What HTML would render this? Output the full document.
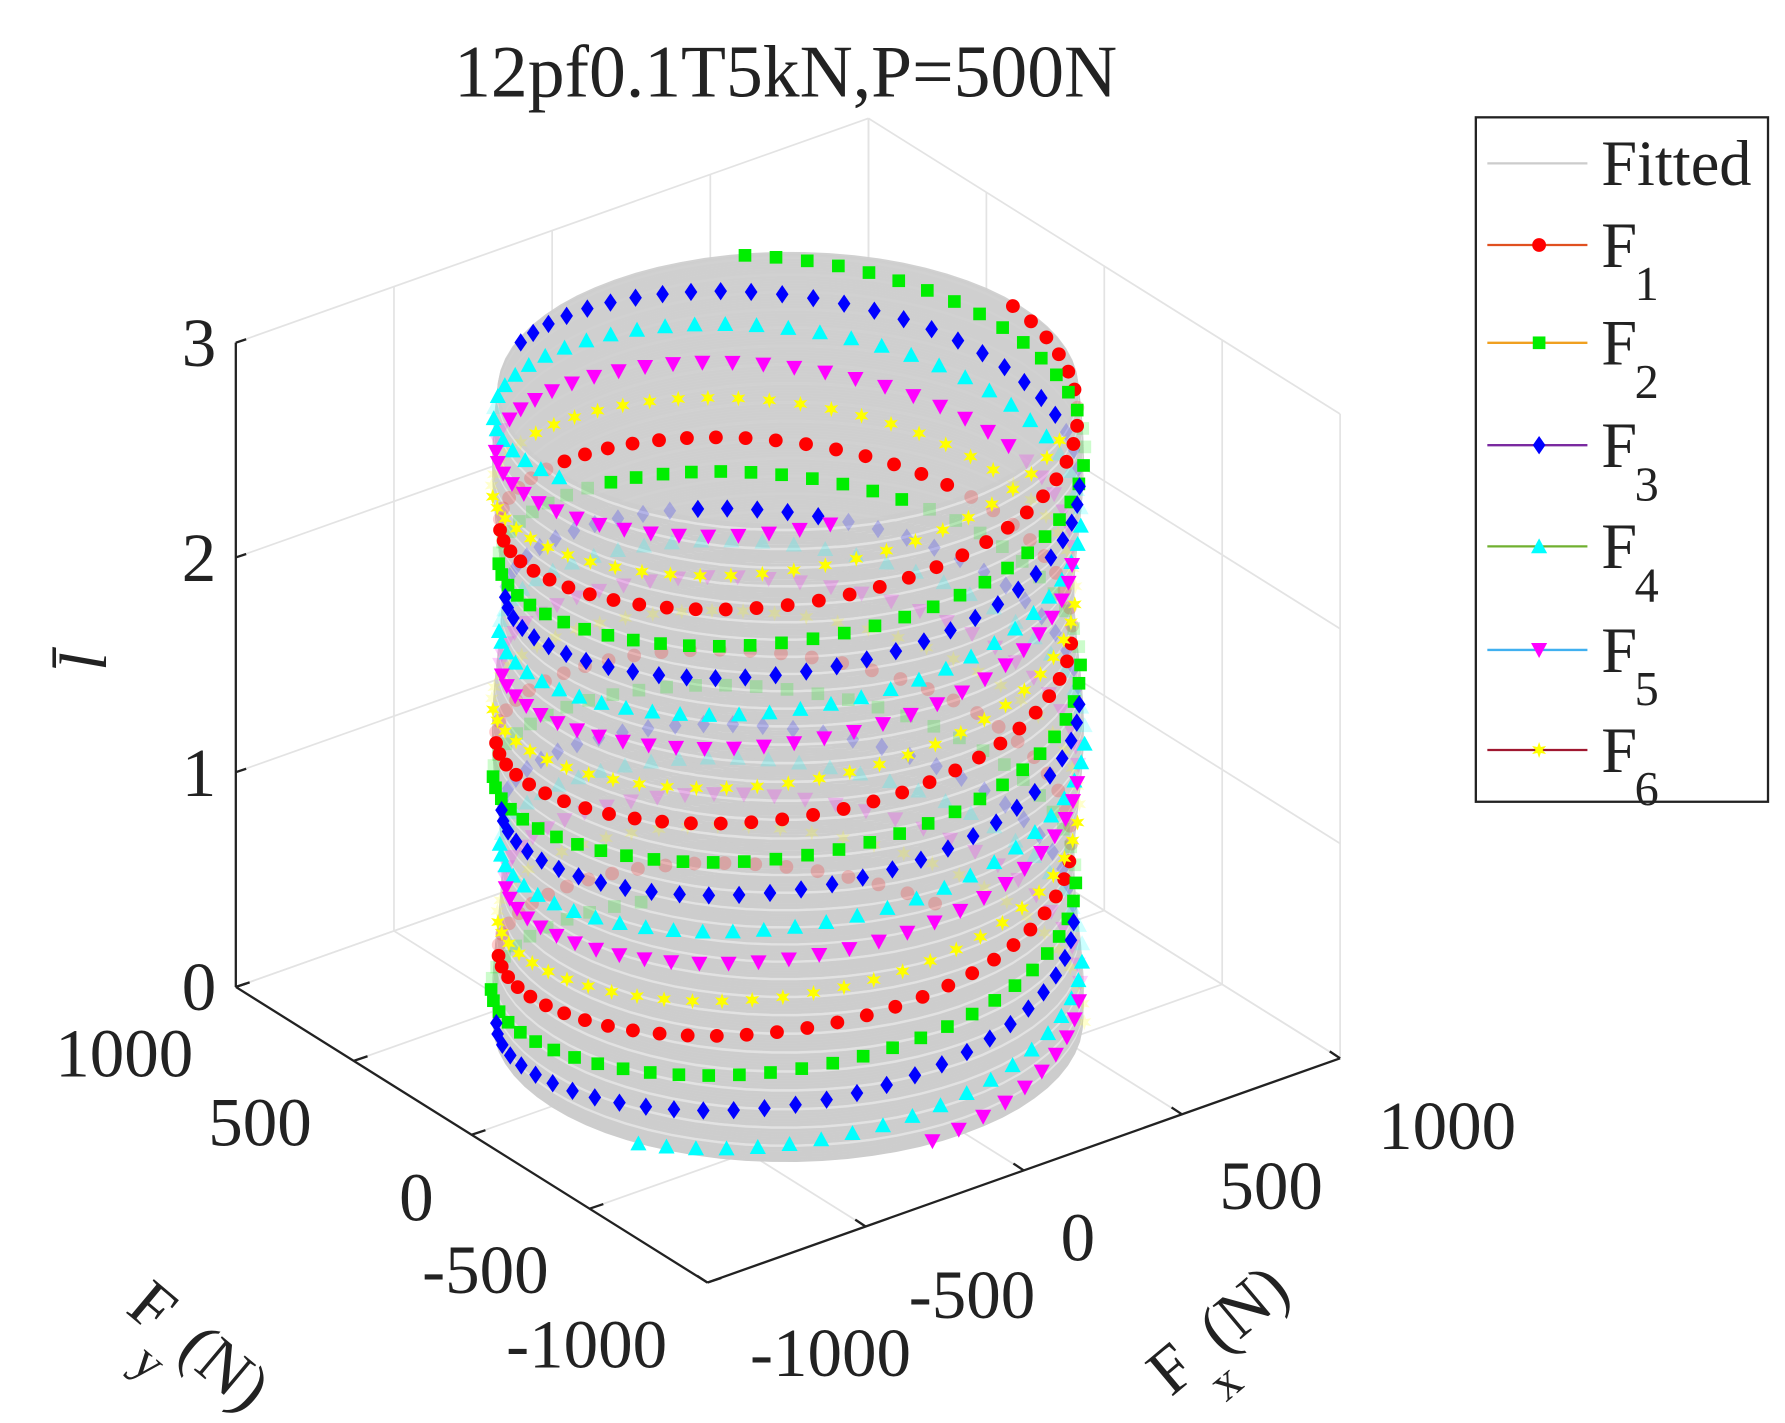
<!DOCTYPE html>
<html><head><meta charset="utf-8"><style>
html,body{margin:0;padding:0;background:#fff;}
svg{display:block;}
text{font-family:"Liberation Serif",serif;fill:#222;}
</style></head><body>
<svg id="s" width="1785" height="1423" viewBox="0 0 1785 1423" xmlns="http://www.w3.org/2000/svg">
<g id="g" transform="scale(1.1503)">
<text x="683" y="84" font-size="64" text-anchor="middle">12pf0.1T5kN,P=500N</text>
<g id="grid" stroke="#e3e3e3" stroke-width="1.5" fill="none"></g>
<g id="axes" stroke="#222" stroke-width="2" fill="none"></g>
<g id="cyl"></g>
<g font-size="60" text-anchor="end">
<text x="188" y="318">3</text><text x="188" y="505">2</text><text x="188" y="692">1</text><text x="188" y="878">0</text>
</g>
<g font-size="60" text-anchor="middle">
<text x="108" y="936">1000</text><text x="226" y="996">500</text><text x="362" y="1061">0</text>
<text x="422" y="1124">-500</text><text x="510" y="1189">-1000</text>
<text x="722" y="1196">-1000</text><text x="845" y="1146">-500</text><text x="937" y="1096">0</text>
<text x="1105" y="1051">500</text><text x="1258" y="999">1000</text>
</g>
<text x="0" y="0" font-size="58" font-style="italic" transform="translate(92,575) rotate(-90)" text-anchor="middle">l̄</text>
<g transform="translate(108,1140) rotate(40)" font-size="58"><text x="0" y="0">F</text><text x="34" y="34" font-size="44">y</text><text x="58" y="0">(N)</text></g>
<g transform="translate(1018,1215) rotate(-40)" font-size="58"><text x="0" y="0">F</text><text x="34" y="34" font-size="44">x</text><text x="58" y="0">(N)</text></g>
<rect x="1283" y="102" width="254" height="595" fill="#fff" stroke="#222" stroke-width="2"/>
<g id="leg"></g>
</g>
</svg>
<script>
(function(){
var NS="http://www.w3.org/2000/svg";
function P(x,y,z){return [685+0.275*x-0.205*y, 889-0.0975*x-0.1285*y-186.7*z];}
function el(p,tag,a){var e=document.createElementNS(NS,tag);for(var k in a)e.setAttribute(k,a[k]);p.appendChild(e);return e;}
function line(p,a,b,extra){var o={x1:a[0],y1:a[1],x2:b[0],y2:b[1]};for(var k in extra)o[k]=extra[k];el(p,'line',o);}
var G=document.getElementById('grid'),A=document.getElementById('axes'),C=document.getElementById('cyl'),L=document.getElementById('leg');
var i,t;
for(i=-1000;i<=1000;i+=500){
 line(G,P(i,1000,0),P(i,1000,3));line(G,P(1000,i,0),P(1000,i,3));
 line(G,P(i,-1000,0),P(i,1000,0));line(G,P(-1000,i,0),P(1000,i,0));}
for(t=0;t<=3;t++){line(G,P(-1000,1000,t),P(1000,1000,t));line(G,P(1000,1000,t),P(1000,-1000,t));}
line(A,P(-1000,1000,0),P(-1000,1000,3));
line(A,P(-1000,1000,0),P(-1000,-1000,0));
line(A,P(-1000,-1000,0),P(1000,-1000,0));
for(t=0;t<=3;t++){var a=P(-1000,1000,t);line(A,a,[a[0]+9,a[1]-3]);}
for(i=-1000;i<=1000;i+=500){var a=P(-1000,i,0);line(A,a,[a[0]+12,a[1]-4]);var b=P(i,-1000,0);line(A,b,[b[0]-9,b[1]-6]);}
function R(z){return 735+12*Math.sin(2*Math.PI*z*0.8+1.0);}
var zmax=2.95,k,th,n=0;
for(t=0;t<=zmax;t+=0.012){
 n++;var d="";var r=R(t);
 for(k=0;k<=72;k++){th=Math.PI*2*k/72;var p=P(r*Math.cos(th),r*Math.sin(th),t);d+=(k?"L":"M")+p[0].toFixed(1)+" "+p[1].toFixed(1);}
 el(C,'path',{d:d,fill:(t<0.02?'#d2d2d2':'none'),stroke:(n%7==0?'#e2e2e2':'#cdcdcd'),'stroke-width':'2.2'});}
var dtop="";for(k=0;k<=72;k++){th=Math.PI*2*k/72;var p=P(R(zmax)*Math.cos(th),R(zmax)*Math.sin(th),zmax);dtop+=(k?"L":"M")+p[0].toFixed(1)+" "+p[1].toFixed(1);}
el(C,'path',{d:dtop,fill:'#d0d0d0',stroke:'#cdcdcd','stroke-width':'2','opacity':'0.9'});
var cols=['#ff0000','#00ee00','#0000ff','#00ffff','#ff00ff','#ffff00'];
var shapes=['c','s','d','u','v','h'];
function mk(p,x,y,s,col,op){
 var a={fill:col,opacity:op};
 if(s=='c'){a.cx=x;a.cy=y;a.r=6;el(p,'circle',a);}
 else if(s=='s'){a.x=x-5.5;a.y=y-5.5;a.width=11;a.height=11;el(p,'rect',a);}
 else{var q;
  if(s=='d')q=[[x,y-8],[x+5.5,y],[x,y+8],[x-5.5,y]];
  else if(s=='u')q=[[x,y-7],[x+7,y+6],[x-7,y+6]];
  else if(s=='v')q=[[x,y+7],[x+7,y-6],[x-7,y-6]];
  else{q=[];for(var j=0;j<12;j++){var an=j*Math.PI/6-Math.PI/2,rr=(j%2?3:7);q.push([x+rr*Math.cos(an),y+rr*Math.sin(an)]);}}
  a.points=q.map(function(v){return v[0].toFixed(1)+','+v[1].toFixed(1);}).join(' ');el(p,'polygon',a);}
}
var base=-37*Math.PI/180, alpha=323*Math.PI/180;
var back=[],front=[];
for(var s=0;s<6;s++){
 var ph=base+(s+1)*Math.PI/3;
 for(t=0;t<=zmax;t+=0.017){
  th=ph+2*Math.PI*t;var r=R(t)+(s%2?6:-6);
  var p=P(r*Math.cos(th),r*Math.sin(th),t);
  var dyf=-0.0975*Math.cos(th)-0.1285*Math.sin(th);
  if(dyf>0)front.push([p,s]);
  else{var thf=2*alpha-th;var pf=P(R(zmax)*Math.cos(thf),R(zmax)*Math.sin(thf),zmax);
   var vis=p[1]<pf[1]-4;back.push([p,s,vis?1:0.2]);}
 }}
back.forEach(function(b){mk(C,b[0][0],b[0][1],shapes[b[1]],cols[b[1]],b[2]);});
front.forEach(function(b){mk(C,b[0][0],b[0][1],shapes[b[1]],cols[b[1]],1);});
var lc=['#e05020','#f0a020','#7a2aa0','#70b030','#40b0f0','#a01830'];
line(L,[1293,142],[1380,142],{stroke:'#cccccc','stroke-width':2});
el(L,'text',{x:1392,y:161,'font-size':'56'}).textContent='Fitted';
var ys=[213,298,387,475,565,652];
for(var s=0;s<6;s++){var y=ys[s];
 line(L,[1293,y],[1380,y],{stroke:lc[s],'stroke-width':2});
 mk(L,1338,y,shapes[s],cols[s],1);
 el(L,'text',{x:1392,y:y+19,'font-size':'56'}).textContent='F';
 el(L,'text',{x:1421,y:y+48,'font-size':'42'}).textContent=String(s+1);}
})();
</script>
</body></html>
